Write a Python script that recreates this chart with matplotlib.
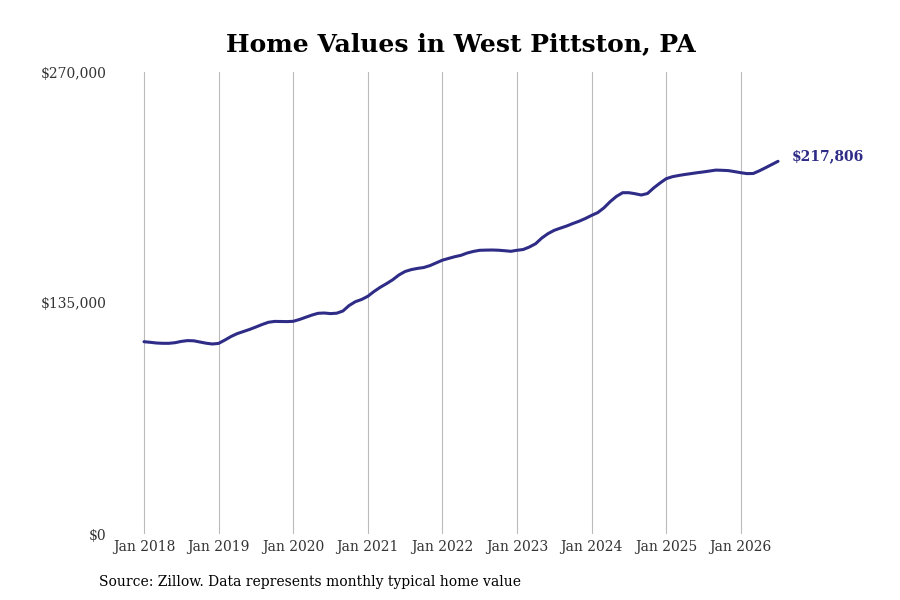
import matplotlib
matplotlib.use("Agg")
import matplotlib.pyplot as plt

# Monthly typical home value, Jan 2018 .. Jul 2026
values = [
    112380, 112030, 111620, 111440, 111440, 111800, 112560, 113020, 112910, 112200, 111500, 111040,  # 2018
    111390, 113320, 115420, 117110, 118340, 119570, 120970, 122430, 123720, 124240, 124190, 124130,  # 2019
    124300, 125350, 126640, 127930, 128980, 129150, 128800, 129040, 130320, 133540, 135760, 137050,  # 2020
    138910, 141720, 144170, 146280, 148550, 151360, 153410, 154520, 155220, 155740, 156850, 158430,  # 2021
    160010, 161060, 162060, 162870, 164220, 165150, 165800, 165910, 165970, 165850, 165560, 165210,  # 2022
    165800, 166260, 167720, 169650, 172980, 175550, 177480, 178770, 180000, 181460, 182800, 184380,  # 2023
    186190, 187830, 190630, 194250, 197290, 199460, 199460, 198870, 198110, 198990, 202260, 205070,  # 2024
    207640, 208810, 209510, 210100, 210620, 211150, 211610, 212140, 212670, 212550, 212370, 211790,  # 2025
    211150, 210620, 210680, 212260, 214070, 215940, 217806,                                          # 2026
]
months = list(range(len(values)))

tick_months = [0, 12, 24, 36, 48, 60, 72, 84, 96]
tick_labels = ["Jan 2018", "Jan 2019", "Jan 2020", "Jan 2021", "Jan 2022",
               "Jan 2023", "Jan 2024", "Jan 2025", "Jan 2026"]
y_ticks = [0, 135000, 270000]
y_labels = ["$0", "$135,000", "$270,000"]
last_label = "$217,806"

plt.rcParams['font.family'] = ['DejaVu Serif']
fig = plt.figure(figsize=(9, 6), dpi=100)
L, R, B, T = 115, 800, 534, 72
ax = fig.add_axes([L / 900, 1 - B / 600, (R - L) / 900, (B - T) / 600])
a = (L - 144) / 6.216
b = (R - 144) / 6.216
ax.set_xlim(a, b)
ax.set_ylim(0, 270000)

ax.plot(months, values, color="#2e2c86", lw=2.2, solid_capstyle="round",
        solid_joinstyle="round")
ax.text(months[-1] + 2.2, values[-1] + 2900, last_label, color="#2e2c86",
        fontsize=10, fontweight="bold", va="center", ha="left")

ax.set_xticks(tick_months)
ax.set_xticklabels(tick_labels, fontsize=10, color="#333333")
ax.set_yticks(y_ticks)
ax.set_yticklabels(y_labels, fontsize=10, color="#333333")
ax.tick_params(axis="both", length=0)
ax.tick_params(axis="x", pad=4)
ax.tick_params(axis="y", pad=6)
ax.grid(axis="x", color="#bbbbbb", lw=0.8)
ax.grid(axis="y", visible=False)
for s in ax.spines.values():
    s.set_visible(False)

fig.text(461 / 900, 1 - 44 / 600, "Home Values in West Pittston, PA",
         fontsize=18, fontweight="bold", ha="center", va="center")
fig.text(99 / 900, 1 - 582 / 600, "Source: Zillow. Data represents monthly typical home value",
         fontsize=10, ha="left", va="center")

fig.savefig("out.png", dpi=100)
